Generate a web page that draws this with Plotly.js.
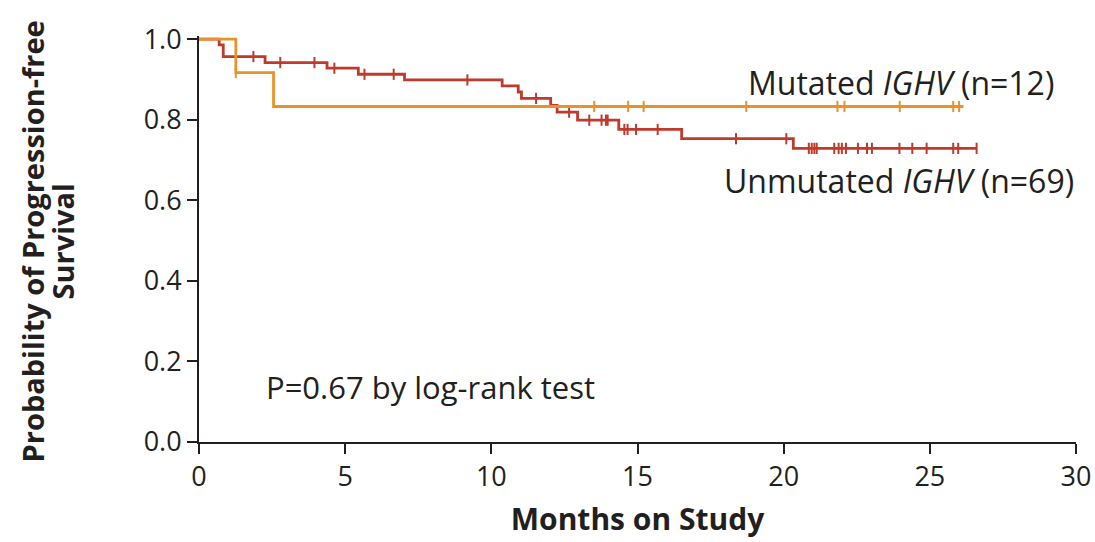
<!DOCTYPE html>
<html>
<head>
<meta charset="utf-8">
<script src="https://cdn.plot.ly/plotly-3.0.1.min.js"></script>
<style>
  html, body { margin: 0; padding: 0; background: #ffffff; }
  #chart { width: 1095px; height: 542px; }
</style>
</head>
<body>
<div id="chart"></div>
<script>
// Kaplan-Meier progression-free survival by IGHV mutation status

// Mutated IGHV (n=12)
const mutTimes = [0, 1.26, 2.55];
const mutSurv = [1.0, 0.917, 0.833];
const mutLastFollowUp = 26.15;
const mutCensored = [1.26, 13.52, 14.68, 15.21, 18.72, 21.84, 22.08, 23.97, 25.80, 26.0];

// Unmutated IGHV (n=69)
const unmTimes = [0, 0.69, 0.83, 2.26, 4.38, 5.45, 7.03, 10.37, 10.92, 11.03,
                  12.03, 12.25, 12.95, 14.36, 16.51, 20.33];
const unmSurv = [1.0, 0.986, 0.957, 0.942, 0.928, 0.913, 0.899, 0.884, 0.869, 0.853,
                 0.836, 0.819, 0.799, 0.776, 0.753, 0.729];
const unmLastFollowUp = 26.6;
const unmCensored = [1.86, 2.78, 3.95, 4.63, 5.66, 6.66, 9.18, 11.53, 12.66, 13.35,
                     13.77, 13.92, 13.98, 14.55, 14.66, 14.95, 15.69, 18.37, 20.09,
                     20.86, 20.96, 21.05, 21.13, 21.73, 21.88, 21.99, 22.13, 22.54,
                     22.85, 23.02, 23.96, 24.40, 24.89, 25.80, 25.97, 26.6];

// Axis ticks
const xTicks = [0, 5, 10, 15, 20, 25, 30];
const yTicks = [0, 0.2, 0.4, 0.6, 0.8, 1.0];
const yTickText = ['0.0', '0.2', '0.4', '0.6', '0.8', '1.0'];

const RED = '#bf3a2b';
const ORANGE = '#e8922c';
const INK = '#231f20';
const FONT = '"Open Sans", Lato, sans-serif';

// survival value of a step curve at time t
function survAt(times, surv, t) {
  let s = surv[0];
  for (let i = 0; i < times.length; i++) {
    if (times[i] <= t) s = surv[i];
  }
  return s;
}

function stepTrace(times, surv, lastT, color) {
  return {
    x: times.concat([lastT]),
    y: surv.concat([surv[surv.length - 1]]),
    type: 'scatter',
    mode: 'lines',
    line: { shape: 'hv', color: color, width: 2.8 },
    hoverinfo: 'skip',
    showlegend: false
  };
}

function censorTrace(censored, times, surv, color) {
  return {
    x: censored,
    y: censored.map(t => survAt(times, surv, t)),
    type: 'scatter',
    mode: 'markers',
    marker: { symbol: 'line-ns', size: 8, line: { color: color, width: 2 } },
    cliponaxis: false,
    hoverinfo: 'skip',
    showlegend: false
  };
}

const data = [
  stepTrace(unmTimes, unmSurv, unmLastFollowUp, RED),
  censorTrace(unmCensored, unmTimes, unmSurv, RED),
  stepTrace(mutTimes, mutSurv, mutLastFollowUp, ORANGE),
  censorTrace(mutCensored, mutTimes, mutSurv, ORANGE)
];

const layout = {
  width: 1095,
  height: 542,
  margin: { l: 199, r: 19, t: 36, b: 100 },
  paper_bgcolor: '#ffffff',
  plot_bgcolor: '#ffffff',
  font: { family: FONT, color: INK, size: 27 },
  xaxis: {
    range: [0, 30],
    tickvals: xTicks,
    ticktext: xTicks.map(String),
    ticks: 'outside',
    ticklen: 10,
    tickwidth: 2,
    tickcolor: INK,
    showline: true,
    linecolor: INK,
    linewidth: 2,
    showgrid: false,
    zeroline: false,
    tickfont: { family: FONT, size: 27, color: INK },
    title: {
      text: '<b>Months on Study</b>',
      font: { family: FONT, size: 30, color: INK },
      standoff: 16
    },
    automargin: false
  },
  yaxis: {
    range: [0, 1.008],
    tickvals: yTicks,
    ticktext: yTickText,
    ticks: 'outside',
    ticklen: 10,
    tickwidth: 2,
    tickcolor: INK,
    showline: true,
    linecolor: INK,
    linewidth: 2,
    showgrid: false,
    zeroline: false,
    tickfont: { family: FONT, size: 27, color: INK },
    automargin: false
  },
  shapes: [
    // x-axis baseline runs a little past the y-axis
    { type: 'line', xref: 'paper', yref: 'paper', x0: -0.011, x1: 0, y0: 0, y1: 0,
      line: { color: INK, width: 2 } }
  ],
  annotations: [
    {
      text: '<b>Probability of Progression-free</b>',
      xref: 'paper', yref: 'paper', x: -0.1904, y: 0.494,
      xanchor: 'center', yanchor: 'middle', textangle: -90,
      showarrow: false,
      font: { family: FONT, size: 29, color: INK }
    },
    {
      text: '<b>Survival</b>',
      xref: 'paper', yref: 'paper', x: -0.1562, y: 0.494,
      xanchor: 'center', yanchor: 'middle', textangle: -90,
      showarrow: false,
      font: { family: FONT, size: 29, color: INK }
    },
    {
      text: 'Mutated <i>IGHV</i> (n=12)',
      xref: 'x', yref: 'y', x: 18.71, y: 0.893,
      xanchor: 'left', yanchor: 'middle', showarrow: false,
      font: { family: FONT, size: 32, color: INK }
    },
    {
      text: 'Unmutated <i>IGHV</i> (n=69)',
      xref: 'x', yref: 'y', x: 17.89, y: 0.65,
      xanchor: 'left', yanchor: 'middle', showarrow: false,
      font: { family: FONT, size: 32, color: INK }
    },
    {
      text: 'P=0.67 by log-rank test',
      xref: 'x', yref: 'y', x: 2.22, y: 0.136,
      xanchor: 'left', yanchor: 'middle', showarrow: false,
      font: { family: FONT, size: 31, color: INK }
    }
  ]
};

Plotly.newPlot('chart', data, layout, { displayModeBar: false, staticPlot: true });
</script>
</body>
</html>
